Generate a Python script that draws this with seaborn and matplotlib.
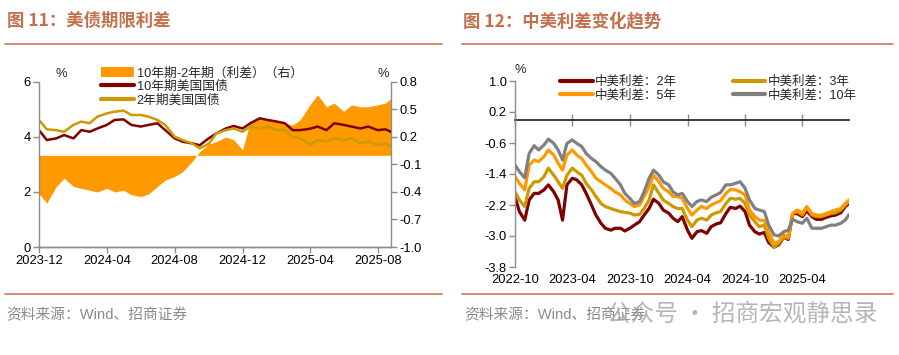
import numpy as np
import pandas as pd
import matplotlib
matplotlib.use('Agg')
import matplotlib.pyplot as plt
import matplotlib.dates as mdates
from matplotlib.ticker import FormatStrFormatter, FixedLocator, NullFormatter
from matplotlib.patches import Patch
from matplotlib.lines import Line2D
import seaborn as sns

sns.set_theme(style='white')
plt.rcParams['font.family'] = ['Liberation Sans', 'Noto Sans CJK SC']
plt.rcParams['axes.unicode_minus'] = False

# ---------------- data: Fig 11 (US Treasury term spread) ----------------
us_dates = list(pd.date_range('2023-12-01', '2025-08-15', freq='SMS')) + [pd.Timestamp('2025-08-25')]
us10y = [4.25, 3.89, 3.95, 4.07, 3.95, 4.25, 4.19, 4.31, 4.44, 4.62,
         4.64, 4.44, 4.38, 4.44, 4.50, 4.25, 3.95, 3.83, 3.77, 3.70,
         3.95, 4.13, 4.31, 4.40, 4.31, 4.50, 4.68, 4.62, 4.56, 4.50,
         4.25, 4.25, 4.30, 4.38, 4.25, 4.50, 4.44, 4.38, 4.31, 4.38,
         4.25, 4.28, 4.19]
us2y = [4.62, 4.28, 4.25, 4.19, 4.44, 4.56, 4.50, 4.74, 4.86, 4.92,
        4.96, 4.80, 4.80, 4.74, 4.62, 4.44, 4.01, 3.89, 3.77, 3.59,
        3.75, 4.13, 4.25, 4.31, 4.19, 4.38, 4.31, 4.38, 4.25, 4.25,
        4.01, 3.95, 3.71, 3.89, 3.83, 3.95, 3.89, 3.95, 3.77, 3.83,
        3.71, 3.77, 3.65]
us_spread = [-0.42, -0.52, -0.34, -0.25, -0.34, -0.36, -0.38, -0.40, -0.36, -0.40,
             -0.38, -0.43, -0.45, -0.42, -0.34, -0.27, -0.23, -0.18, -0.07, 0.04,
             0.12, 0.15, 0.20, 0.17, 0.06, 0.37, 0.42, 0.39, 0.37, 0.35,
             0.33, 0.39, 0.55, 0.66, 0.53, 0.57, 0.48, 0.55, 0.53, 0.53,
             0.55, 0.57, 0.62]
us_xticks = ['2023-12-01', '2024-04-01', '2024-08-01', '2024-12-01', '2025-04-01', '2025-08-01']
us_left_ticks = [0, 2, 4, 6]
us_right_ticks = [0.8, 0.5, 0.2, -0.1, -0.4, -0.7, -1.0]
us_labels = ['10年期-2年期（利差）（右）', '10年期美国国债', '2年期美国国债']

# ---------------- data: Fig 12 (China-US spreads) ----------------
cn_dates = list(pd.date_range('2022-10-01', '2025-08-15', freq='SMS')) + [pd.Timestamp('2025-08-27')]
spread_2y = [-1.99, -2.37, -2.59, -2.07, -1.90, -1.90, -1.81, -1.68, -1.86, -2.07,
             -2.59, -1.68, -1.51, -1.55, -1.68, -1.90, -2.20, -2.46, -2.67, -2.80,
             -2.85, -2.80, -2.80, -2.87, -2.80, -2.72, -2.63, -2.46, -2.29, -2.05,
             -2.16, -2.33, -2.41, -2.54, -2.63, -2.50, -2.85, -3.06, -2.89, -2.86,
             -2.93, -2.76, -2.69, -2.66, -2.42, -2.26, -2.29, -2.23, -2.37, -2.72,
             -2.89, -2.95, -2.91, -3.17, -3.29, -3.23, -3.03, -3.09, -2.43, -2.42,
             -2.50, -2.35, -2.50, -2.57, -2.57, -2.52, -2.48, -2.46, -2.40, -2.24,
             -2.16]
spread_3y = [-1.86, -2.07, -2.24, -1.77, -1.60, -1.60, -1.47, -1.25, -1.43, -1.60,
             -1.77, -1.43, -1.25, -1.34, -1.43, -1.64, -1.81, -1.98, -2.16, -2.24,
             -2.29, -2.33, -2.37, -2.39, -2.41, -2.46, -2.44, -2.29, -2.07, -1.68,
             -1.90, -2.07, -2.16, -2.24, -2.29, -2.29, -2.59, -2.76, -2.59, -2.54,
             -2.59, -2.46, -2.40, -2.37, -2.16, -2.03, -2.05, -2.03, -2.16, -2.46,
             -2.63, -2.76, -2.72, -3.06, -3.29, -3.19, -3.02, -3.06, -2.42, -2.37,
             -2.46, -2.26, -2.46, -2.50, -2.50, -2.46, -2.42, -2.40, -2.33, -2.20,
             -2.11]
spread_5y = [-1.47, -1.64, -1.81, -1.17, -1.04, -1.08, -0.95, -0.78, -0.91, -1.12,
             -1.30, -0.91, -0.78, -0.91, -1.00, -1.17, -1.34, -1.51, -1.60, -1.68,
             -1.77, -1.86, -1.94, -2.07, -2.16, -2.24, -2.20, -1.98, -1.73, -1.43,
             -1.60, -1.77, -1.86, -1.98, -1.98, -2.03, -2.29, -2.46, -2.33, -2.24,
             -2.29, -2.20, -2.14, -2.09, -1.90, -1.80, -1.81, -1.86, -1.94, -2.33,
             -2.50, -2.59, -2.60, -2.89, -3.19, -3.15, -2.97, -3.02, -2.42, -2.33,
             -2.40, -2.24, -2.42, -2.46, -2.46, -2.42, -2.37, -2.33, -2.29, -2.16,
             -2.07]
spread_10y = [-1.17, -1.34, -1.50, -0.87, -0.67, -0.78, -0.65, -0.50, -0.61, -0.78,
              -1.04, -0.61, -0.52, -0.61, -0.69, -0.87, -1.00, -1.08, -1.21, -1.30,
              -1.38, -1.51, -1.68, -1.90, -2.03, -2.16, -2.11, -1.86, -1.51, -1.30,
              -1.43, -1.60, -1.68, -1.86, -1.94, -1.90, -2.11, -2.24, -2.11, -2.07,
              -2.11, -2.00, -1.94, -1.88, -1.68, -1.68, -1.64, -1.60, -1.77, -2.07,
              -2.29, -2.33, -2.37, -2.72, -2.97, -3.00, -2.89, -2.85, -2.57, -2.63,
              -2.67, -2.54, -2.80, -2.80, -2.80, -2.76, -2.72, -2.72, -2.67, -2.59,
              -2.45]
cn_labels = ['中美利差：2年', '中美利差：3年', '中美利差：5年', '中美利差：10年']
cn_xticks = ['2022-10-01', '2023-04-01', '2023-10-01', '2024-04-01', '2024-10-01', '2025-04-01']
cn_yticks = [1.0, 0.2, -0.6, -1.4, -2.2, -3.0, -3.8]

# ---------------- styles ----------------
DARKRED = '#800000'
GOLD = '#CC9900'
ORANGE = '#FF9900'
GRAY = '#808080'
AXGRAY = '#8C8C8C'
TITLE_C = '#C3704D'
RULE_C = '#D0785A'
TICK_FS = 9.3
W, H = 899, 355

def fx(px):
    return px / W

def fy(py):
    return 1 - py / H

fig = plt.figure(figsize=(W / 100, H / 100), dpi=100)
fig.patch.set_facecolor('white')

# ================= Left panel =================
axL = fig.add_axes([fx(39), fy(247), (391 - 39) / W, (247 - 82) / H])
axL2 = axL.twinx()
axL2.fill_between(us_dates, 0, us_spread, color=ORANGE, lw=0)
axL.set_zorder(axL2.get_zorder() + 1)
axL.patch.set_visible(False)

dfL = pd.DataFrame({'date': us_dates, 'y10': us10y, 'y2': us2y})
sns.lineplot(data=dfL, x='date', y='y10', ax=axL, color=DARKRED, lw=1.8)
sns.lineplot(data=dfL, x='date', y='y2', ax=axL, color=GOLD, lw=1.8)

axL.set_xlim(us_dates[0], us_dates[-1])
axL.set_ylim(0, 6)
axL.set_yticks(us_left_ticks)
axL.yaxis.set_major_formatter(FormatStrFormatter('%d'))
axL2.set_ylim(-1.0, 0.8)
axL2.set_yticks(us_right_ticks)
axL2.yaxis.set_major_formatter(FormatStrFormatter('%.1f'))
axL.set_xticks(pd.to_datetime(us_xticks))
axL.xaxis.set_major_formatter(mdates.DateFormatter('%Y-%m'))
axL.set_xlabel('')
axL.set_ylabel('')
axL2.set_ylabel('')

for a in (axL, axL2):
    for s in a.spines.values():
        s.set_color(AXGRAY)
        s.set_linewidth(1.0)
    a.spines['top'].set_visible(False)
    a.grid(False)
axL.spines['right'].set_visible(False)
axL2.spines['left'].set_visible(False)
axL.tick_params(axis='both', direction='out', length=4, width=1, color=AXGRAY,
                labelsize=TICK_FS, labelcolor='black', pad=2,
                left=True, bottom=True)
axL2.tick_params(axis='y', direction='out', length=4, width=1, color=AXGRAY,
                 labelsize=TICK_FS, labelcolor='black', pad=2, right=True)

handlesL = [Patch(facecolor=ORANGE, edgecolor='none'),
            Line2D([], [], color=DARKRED, lw=3),
            Line2D([], [], color=GOLD, lw=3)]
axL.legend(handlesL, us_labels, loc='upper left',
           bbox_to_anchor=((101 - 39) / 352, (247 - 67) / 165),
           frameon=False, fontsize=9.2, handlelength=2.6, handleheight=0.8,
           handletextpad=0.2, borderpad=0, borderaxespad=0, labelspacing=0.1)

fig.text(fx(61), fy(74), '%', ha='center', va='center', fontsize=TICK_FS)
fig.text(fx(383), fy(74), '%', ha='center', va='center', fontsize=TICK_FS)

# ================= Right panel =================
axR = fig.add_axes([fx(515), fy(267), (849 - 515) / W, (267 - 81) / H])
dfR = pd.DataFrame({'date': cn_dates * 4,
                    'value': spread_2y + spread_3y + spread_5y + spread_10y,
                    'series': sum([[lab] * len(cn_dates) for lab in cn_labels], [])})
palR = dict(zip(cn_labels, [DARKRED, GOLD, ORANGE, GRAY]))
sns.lineplot(data=dfR, x='date', y='value', hue='series', hue_order=cn_labels,
             palette=palR, ax=axR, lw=2.3, legend=False)

axR.set_xlim(cn_dates[0], cn_dates[-1])
axR.set_ylim(-3.8, 1.0)
axR.set_yticks(cn_yticks)
axR.yaxis.set_major_formatter(FormatStrFormatter('%.1f'))
cn_tick_pos = pd.to_datetime(cn_xticks)
axR.set_xticks(cn_tick_pos)
axR.xaxis.set_major_formatter(mdates.DateFormatter('%Y-%m'))
axR.set_xlabel('')
axR.set_ylabel('')
axR.grid(False)
for k in ('top', 'right', 'bottom'):
    axR.spines[k].set_visible(False)
axR.spines['left'].set_color(AXGRAY)
axR.spines['left'].set_linewidth(1.0)
axR.tick_params(axis='y', direction='out', length=4, width=1, color=AXGRAY,
                labelsize=TICK_FS, labelcolor='black', pad=2, left=True)
axR.tick_params(axis='x', length=0, labelsize=TICK_FS, labelcolor='black', pad=5)

zero_frac = (0 - (-3.8)) / (1.0 - (-3.8))
sec = axR.secondary_xaxis(zero_frac)
sec.xaxis.set_major_locator(FixedLocator(mdates.date2num(cn_tick_pos)))
sec.xaxis.set_major_formatter(NullFormatter())
sec.tick_params(axis='x', direction='out', length=4, width=1, color=AXGRAY,
                labelbottom=False, labeltop=False, bottom=True)
sec.spines['bottom'].set_color(AXGRAY)
sec.spines['bottom'].set_linewidth(1.3)

order = [0, 2, 1, 3]
colsR = [DARKRED, GOLD, ORANGE, GRAY]
handlesR = [Line2D([], [], color=colsR[i], lw=3) for i in order]
axR.legend(handlesR, [cn_labels[i] for i in order], ncol=2, loc='upper left',
           bbox_to_anchor=((560 - 515) / 334, (267 - 76) / 186),
           frameon=False, fontsize=9, handlelength=2.6, handletextpad=0.2,
           columnspacing=4.45, borderpad=0, borderaxespad=0, labelspacing=0.1)
fig.text(fx(520), fy(70), '%', ha='center', va='center', fontsize=TICK_FS)

# ================= titles, rules, source =================
fig.text(fx(7), fy(21), '图 11：美债期限利差', fontsize=12.5, fontweight='bold',
         color=TITLE_C, va='center', ha='left', family=['Noto Sans CJK SC'])
fig.text(fx(463), fy(21), '图 12：中美利差变化趋势', fontsize=12.5, fontweight='bold',
         color=TITLE_C, va='center', ha='left', family=['Noto Sans CJK SC'])
for (x0, x1) in ((5, 442), (462, 893)):
    fig.add_artist(Line2D([fx(x0), fx(x1)], [fy(44), fy(44)], color=RULE_C, lw=1.2))
    fig.add_artist(Line2D([fx(x0), fx(x1)], [fy(294), fy(294)], color=RULE_C, lw=1.2))

fig.text(fx(6), fy(315), '资料来源：Wind、招商证券', fontsize=10.6, color='#8A8A8A',
         va='center', ha='left')
fig.text(fx(464), fy(315), '资料来源：Wind、招商证券', fontsize=10.6, color='#8A8A8A',
         va='center', ha='left')
fig.text(fx(607), fy(314), '公众号 · 招商宏观静思录', fontsize=17, color='#A8A8A8',
         alpha=0.85, va='center', ha='left', family=['Noto Sans CJK SC'])

fig.savefig('out.png', dpi=100, facecolor='white')
